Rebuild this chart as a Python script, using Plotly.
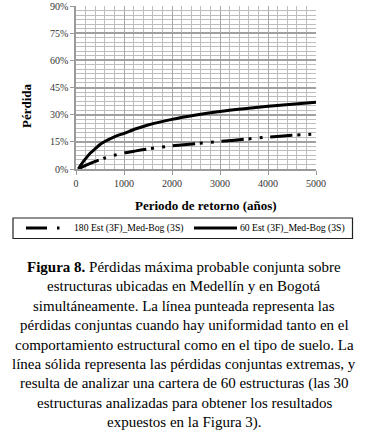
import plotly.graph_objects as go

# ---- data ----
periodo = [50, 100, 200, 300, 400, 500, 600, 800, 1000, 1250, 1500, 2000, 2500, 3000, 3500, 4000, 4500, 5000]
perdida_180 = [0.0, 0.008, 0.020, 0.031, 0.042, 0.051, 0.061, 0.076, 0.089, 0.100, 0.111, 0.128,
               0.140, 0.152, 0.164, 0.176, 0.186, 0.193]
perdida_60 = [0.0, 0.022, 0.057, 0.088, 0.112, 0.135, 0.152, 0.178, 0.197, 0.222, 0.243, 0.274,
              0.298, 0.318, 0.333, 0.346, 0.357, 0.368]
serie_180 = "180 Est (3F)_Med-Bog (3S)"
serie_60 = "60 Est (3F)_Med-Bog (3S)"
y_ticks = [0, 0.15, 0.30, 0.45, 0.60, 0.75, 0.90]
x_ticks = [0, 1000, 2000, 3000, 4000, 5000]
x_title = "Periodo de retorno (años)"
y_title = "Pérdida"
caption = [
    "<b>Figura 8.</b> Pérdidas máxima probable conjunta sobre",
    "estructuras ubicadas en Medellín y en Bogotá",
    "simultáneamente. La línea punteada representa las",
    "pérdidas conjuntas cuando hay uniformidad tanto en el",
    "comportamiento estructural como en el tipo de suelo. La",
    "línea sólida representa las pérdidas conjuntas extremas, y",
    "resulta de analizar una cartera de 60 estructuras (las 30",
    "estructuras analizadas para obtener los resultados",
    "expuestos en la Figura 3).",
]

W, H = 369, 437
L, R, T, B = 76, 316, 6, 169
SERIF = "Liberation Serif, Times New Roman, serif"
DASH_180 = "22px,5px,3px,8px,3px,8px"


def px_x(px):
    return (px - L) / (R - L)


def px_y(py):
    return (B - py) / (B - T)


fig = go.Figure()
fig.add_trace(go.Scatter(
    x=periodo, y=perdida_180, mode="lines", name=serie_180,
    line=dict(color="black", width=3, dash=DASH_180, shape="spline", smoothing=0.6),
))
fig.add_trace(go.Scatter(
    x=periodo, y=perdida_60, mode="lines", name=serie_60,
    line=dict(color="black", width=3, shape="spline", smoothing=0.6),
))

annotations = [
    dict(text=f"<b>{x_title}</b>", xref="paper", yref="paper",
         x=px_x(205.5), y=px_y(205),
         xanchor="center", yanchor="middle", showarrow=False,
         font=dict(family=SERIF, size=13, color="black")),
    dict(text=f"<b>{y_title}</b>", xref="paper", yref="paper",
         x=px_x(26), y=px_y(106),
         xanchor="center", yanchor="middle", showarrow=False, textangle=-90,
         font=dict(family=SERIF, size=13, color="black")),
]
for i, line in enumerate(caption):
    cy = 266.7 + 19.5 * i
    annotations.append(dict(
        text=line, xref="paper", yref="paper",
        x=px_x(184), y=px_y(cy),
        xanchor="center", yanchor="middle", showarrow=False,
        font=dict(family=SERIF, size=15, color="black")))

# ---- legend (drawn in paper space so it can span the full width like the original) ----
LEG_Y = 228
shapes = [
    dict(type="rect", xref="paper", yref="paper",
         x0=px_x(13), x1=px_x(352.5), y0=px_y(218), y1=px_y(238.5),
         line=dict(color="#222222", width=1.2), fillcolor="white", layer="above"),
    dict(type="line", xref="paper", yref="paper",
         x0=px_x(26), x1=px_x(60), y0=px_y(LEG_Y), y1=px_y(LEG_Y),
         line=dict(color="black", width=3, dash="21px,10px,2.5px,10px"), layer="above"),
    dict(type="line", xref="paper", yref="paper",
         x0=px_x(194), x1=px_x(237), y0=px_y(LEG_Y), y1=px_y(LEG_Y),
         line=dict(color="black", width=3), layer="above"),
]
for name, xs in [(serie_180, 71.5), (serie_60, 238)]:
    annotations.append(dict(
        text=name, xref="paper", yref="paper",
        x=px_x(xs), y=px_y(LEG_Y), xanchor="left", yanchor="middle",
        showarrow=False, font=dict(family=SERIF, size=9.7, color="black")))

fig.update_layout(
    width=W, height=H,
    margin=dict(l=L, r=W - R, t=T, b=H - B, pad=0, autoexpand=False),
    paper_bgcolor="white", plot_bgcolor="white",
    showlegend=False,
    annotations=annotations,
    shapes=shapes,
    font=dict(family=SERIF, color="black"),
)
fig.update_xaxes(
    range=[0, 5000], tickvals=x_ticks, tickfont=dict(family=SERIF, size=10, color="#333333"),
    showgrid=True, gridcolor="#a8a8a8", gridwidth=1,
    minor=dict(dtick=200, showgrid=True, gridcolor="#bdbdbd", gridwidth=1, ticks=""),
    showline=True, linecolor="#9a9a9a", linewidth=1.5,
    ticks="outside", ticklen=4, tickcolor="#9a9a9a", zeroline=False,
)
fig.update_yaxes(
    range=[0, 0.9], tickvals=y_ticks, tickformat=".0%", tickfont=dict(family=SERIF, size=10, color="#333333"),
    showgrid=True, gridcolor="#a0a0a0", gridwidth=2,
    minor=dict(dtick=0.025, showgrid=True, gridcolor="#bdbdbd", gridwidth=1, ticks=""),
    showline=True, linecolor="#9a9a9a", linewidth=1.5,
    ticks="outside", ticklen=4, tickcolor="#9a9a9a", zeroline=False,
)

fig.write_html("out.html", config={"displayModeBar": False},
               post_script="document.body.style.margin='0px';")
